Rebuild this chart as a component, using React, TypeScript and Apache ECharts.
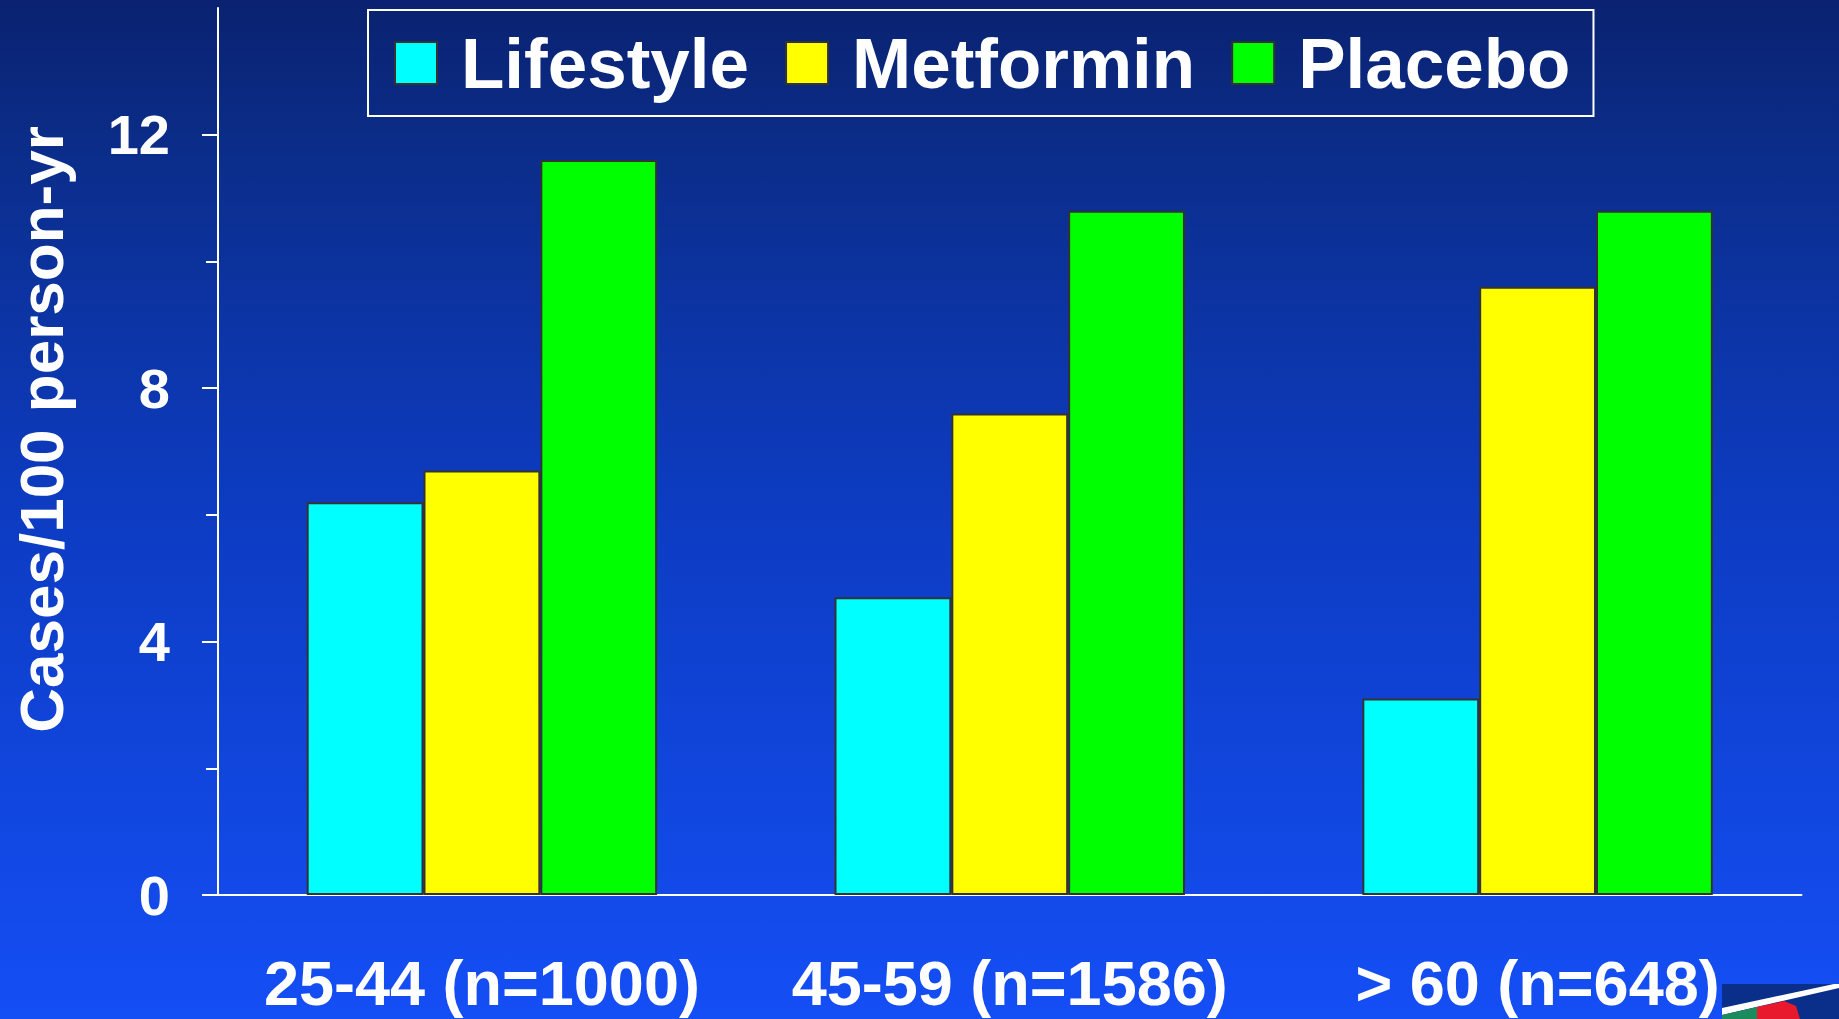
import React, { useEffect, useRef } from 'react';
import * as echarts from 'echarts';

const categories = ['25-44 (n=1000)', '45-59 (n=1586)', '> 60 (n=648)'];
const seriesNames = ['Lifestyle', 'Metformin', 'Placebo'];
const lifestyle = [6.2, 4.7, 3.1];
const metformin = [6.7, 7.6, 9.6];
const placebo = [11.6, 10.8, 10.8];
const yMajorTicks = [0, 4, 8, 12];
const yMinorTicks = [2, 6, 10];
const seriesColors = ['#00ffff', '#ffff00', '#00ff00'];

export default function App() {
  const ref = useRef<HTMLDivElement>(null);
  useEffect(() => {
    document.body.style.margin = '0';
    const chart = echarts.init(ref.current as HTMLDivElement, null, { renderer: 'svg' });
    const font = "'Liberation Sans', Arial, Helvetica, sans-serif";
    const values = [lifestyle, metformin, placebo];
    chart.setOption({
      animation: false,
      backgroundColor: {
        type: 'linear', x: 0, y: 0, x2: 0, y2: 1,
        colorStops: [
          { offset: 0, color: '#0a2270' },
          { offset: 0.15, color: '#0b2d8a' },
          { offset: 0.5, color: '#0d3cc2' },
          { offset: 1, color: '#144ef5' },
        ],
      },
      grid: { left: 218, right: 37.5, top: 8, bottom: 124, containLabel: false },
      legend: {
        data: seriesNames,
        left: 368,
        top: 10,
        padding: [14, 23, 14, 26],
        borderColor: '#ffffff',
        borderWidth: 2,
        itemWidth: 42,
        itemHeight: 42,
        itemGap: 36,
        icon: 'rect',
        textStyle: {
          color: '#ffffff', fontSize: 71, fontWeight: 'bold', fontFamily: font,
          padding: [0, 0, 0, 19], lineHeight: 78,
        },
      },
      xAxis: {
        type: 'category',
        data: categories,
        axisLine: { show: true, lineStyle: { color: '#ffffff', width: 2 } },
        axisTick: { show: false },
        axisLabel: { color: '#ffffff', fontSize: 63, fontWeight: 'bold', fontFamily: font, margin: 56, interval: 0 },
        splitLine: { show: false },
      },
      yAxis: [
        {
          type: 'value', min: 0, max: 14, position: 'left',
          axisLine: { show: true, lineStyle: { color: '#ffffff', width: 2 } },
          axisTick: { show: true, customValues: yMajorTicks, length: 16, lineStyle: { color: '#ffffff', width: 2 } },
          axisLabel: { customValues: yMajorTicks, margin: 48, color: '#ffffff', fontSize: 56, fontWeight: 'bold', fontFamily: font },
          splitLine: { show: false },
          name: 'Cases/100 person-yr',
          nameLocation: 'middle',
          nameRotate: 90,
          nameGap: 146,
          nameTextStyle: { color: '#ffffff', fontSize: 62, fontWeight: 'bold', fontFamily: font, padding: [0, 0, 0, 44] },
        },
        {
          type: 'value', min: 0, max: 14, position: 'left',
          axisLine: { show: false },
          axisTick: { show: true, customValues: yMinorTicks, length: 12, lineStyle: { color: '#ffffff', width: 2 } },
          axisLabel: { show: false },
          splitLine: { show: false },
        },
      ],
      series: seriesNames.map((name, i) => ({
        name,
        type: 'bar',
        yAxisIndex: 0,
        data: values[i],
        barGap: '0%',
        barCategoryGap: '33.6%',
        itemStyle: { color: seriesColors[i], borderColor: '#333333', borderWidth: 2 },
      })),
      graphic: [
        { type: 'polygon', shape: { points: [[1722, 984], [1839, 984], [1839, 1019], [1722, 1019]] }, style: { fill: '#0a2f8a' } },
        { type: 'polygon', shape: { points: [[1722, 1008], [1834, 984], [1839, 984], [1839, 988], [1722, 1015]] }, style: { fill: '#ffffff' } },
        { type: 'polygon', shape: { points: [[1722, 1015], [1757, 1007], [1757, 1019], [1722, 1019]] }, style: { fill: '#1b8a5c' } },
        { type: 'polygon', shape: { points: [[1757, 1007], [1784, 1001], [1796, 1006], [1800, 1019], [1757, 1019]] }, style: { fill: '#e8192c' } },
        { type: 'polygon', shape: { points: [[1804, 998], [1830, 992], [1837, 1000], [1839, 1019], [1804, 1019]] }, style: { fill: '#0a2f8a' } },
      ],
    });
    return () => chart.dispose();
  }, []);
  return <div ref={ref} style={{ position: 'fixed', left: 0, top: 0, width: 1839, height: 1019 }} />;
}
